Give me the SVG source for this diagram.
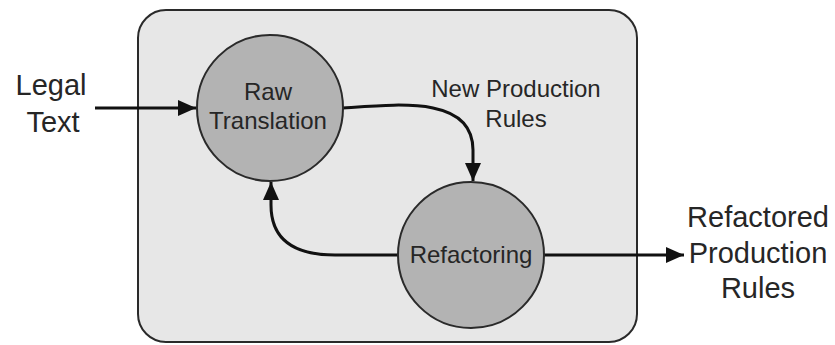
<svg xmlns="http://www.w3.org/2000/svg" width="835" height="345" viewBox="0 0 835 345">
<style>
.t{font-family:"Liberation Sans",Arial,sans-serif;fill:#262626;text-anchor:middle}
.big{font-size:29px}
.mid{font-size:24px}
.node{fill:#b3b3b3;stroke:#2a2a2a;stroke-width:2}
.edge{fill:none;stroke:#111;stroke-width:3}
</style>
<defs>
<marker id="ah" markerUnits="userSpaceOnUse" markerWidth="18" markerHeight="16" refX="18" refY="8" orient="auto">
<path d="M0,0 L18,8 L0,16 Z" fill="#111"/>
</marker>
</defs>
<rect width="835" height="345" fill="#fff"/>
<g id="container">
<rect x="138" y="10" width="499" height="332" rx="28" ry="28" fill="#e7e7e7" stroke="#2a2a2a" stroke-width="2"/>
</g>
<g id="connectors">
<path class="edge" d="M95,108 H196" marker-end="url(#ah)"/>
<path class="edge" d="M343,108 C400,104 473,96 473,150 V181" marker-end="url(#ah)"/>
<path class="edge" d="M398,255 H335 Q271,255 271,205 V182" marker-end="url(#ah)"/>
<path class="edge" d="M544,255 H684" marker-end="url(#ah)"/>
</g>
<g id="legal-text">
<text class="t big" x="51" y="95">Legal</text>
<text class="t big" x="53" y="132">Text</text>
</g>
<g id="raw-translation">
<circle class="node" cx="270" cy="108" r="73"/>
<text class="t mid" x="268" y="100">Raw</text>
<text class="t mid" x="268" y="129">Translation</text>
</g>
<g id="new-production-label">
<text class="t mid" x="516" y="97">New Production</text>
<text class="t mid" x="516" y="127">Rules</text>
</g>
<g id="refactoring">
<circle class="node" cx="471" cy="255" r="73"/>
<text class="t mid" x="471" y="263">Refactoring</text>
</g>
<g id="refactored-rules">
<text class="t big" x="758" y="227">Refactored</text>
<text class="t big" x="758" y="263">Production</text>
<text class="t big" x="758" y="298">Rules</text>
</g>
</svg>
